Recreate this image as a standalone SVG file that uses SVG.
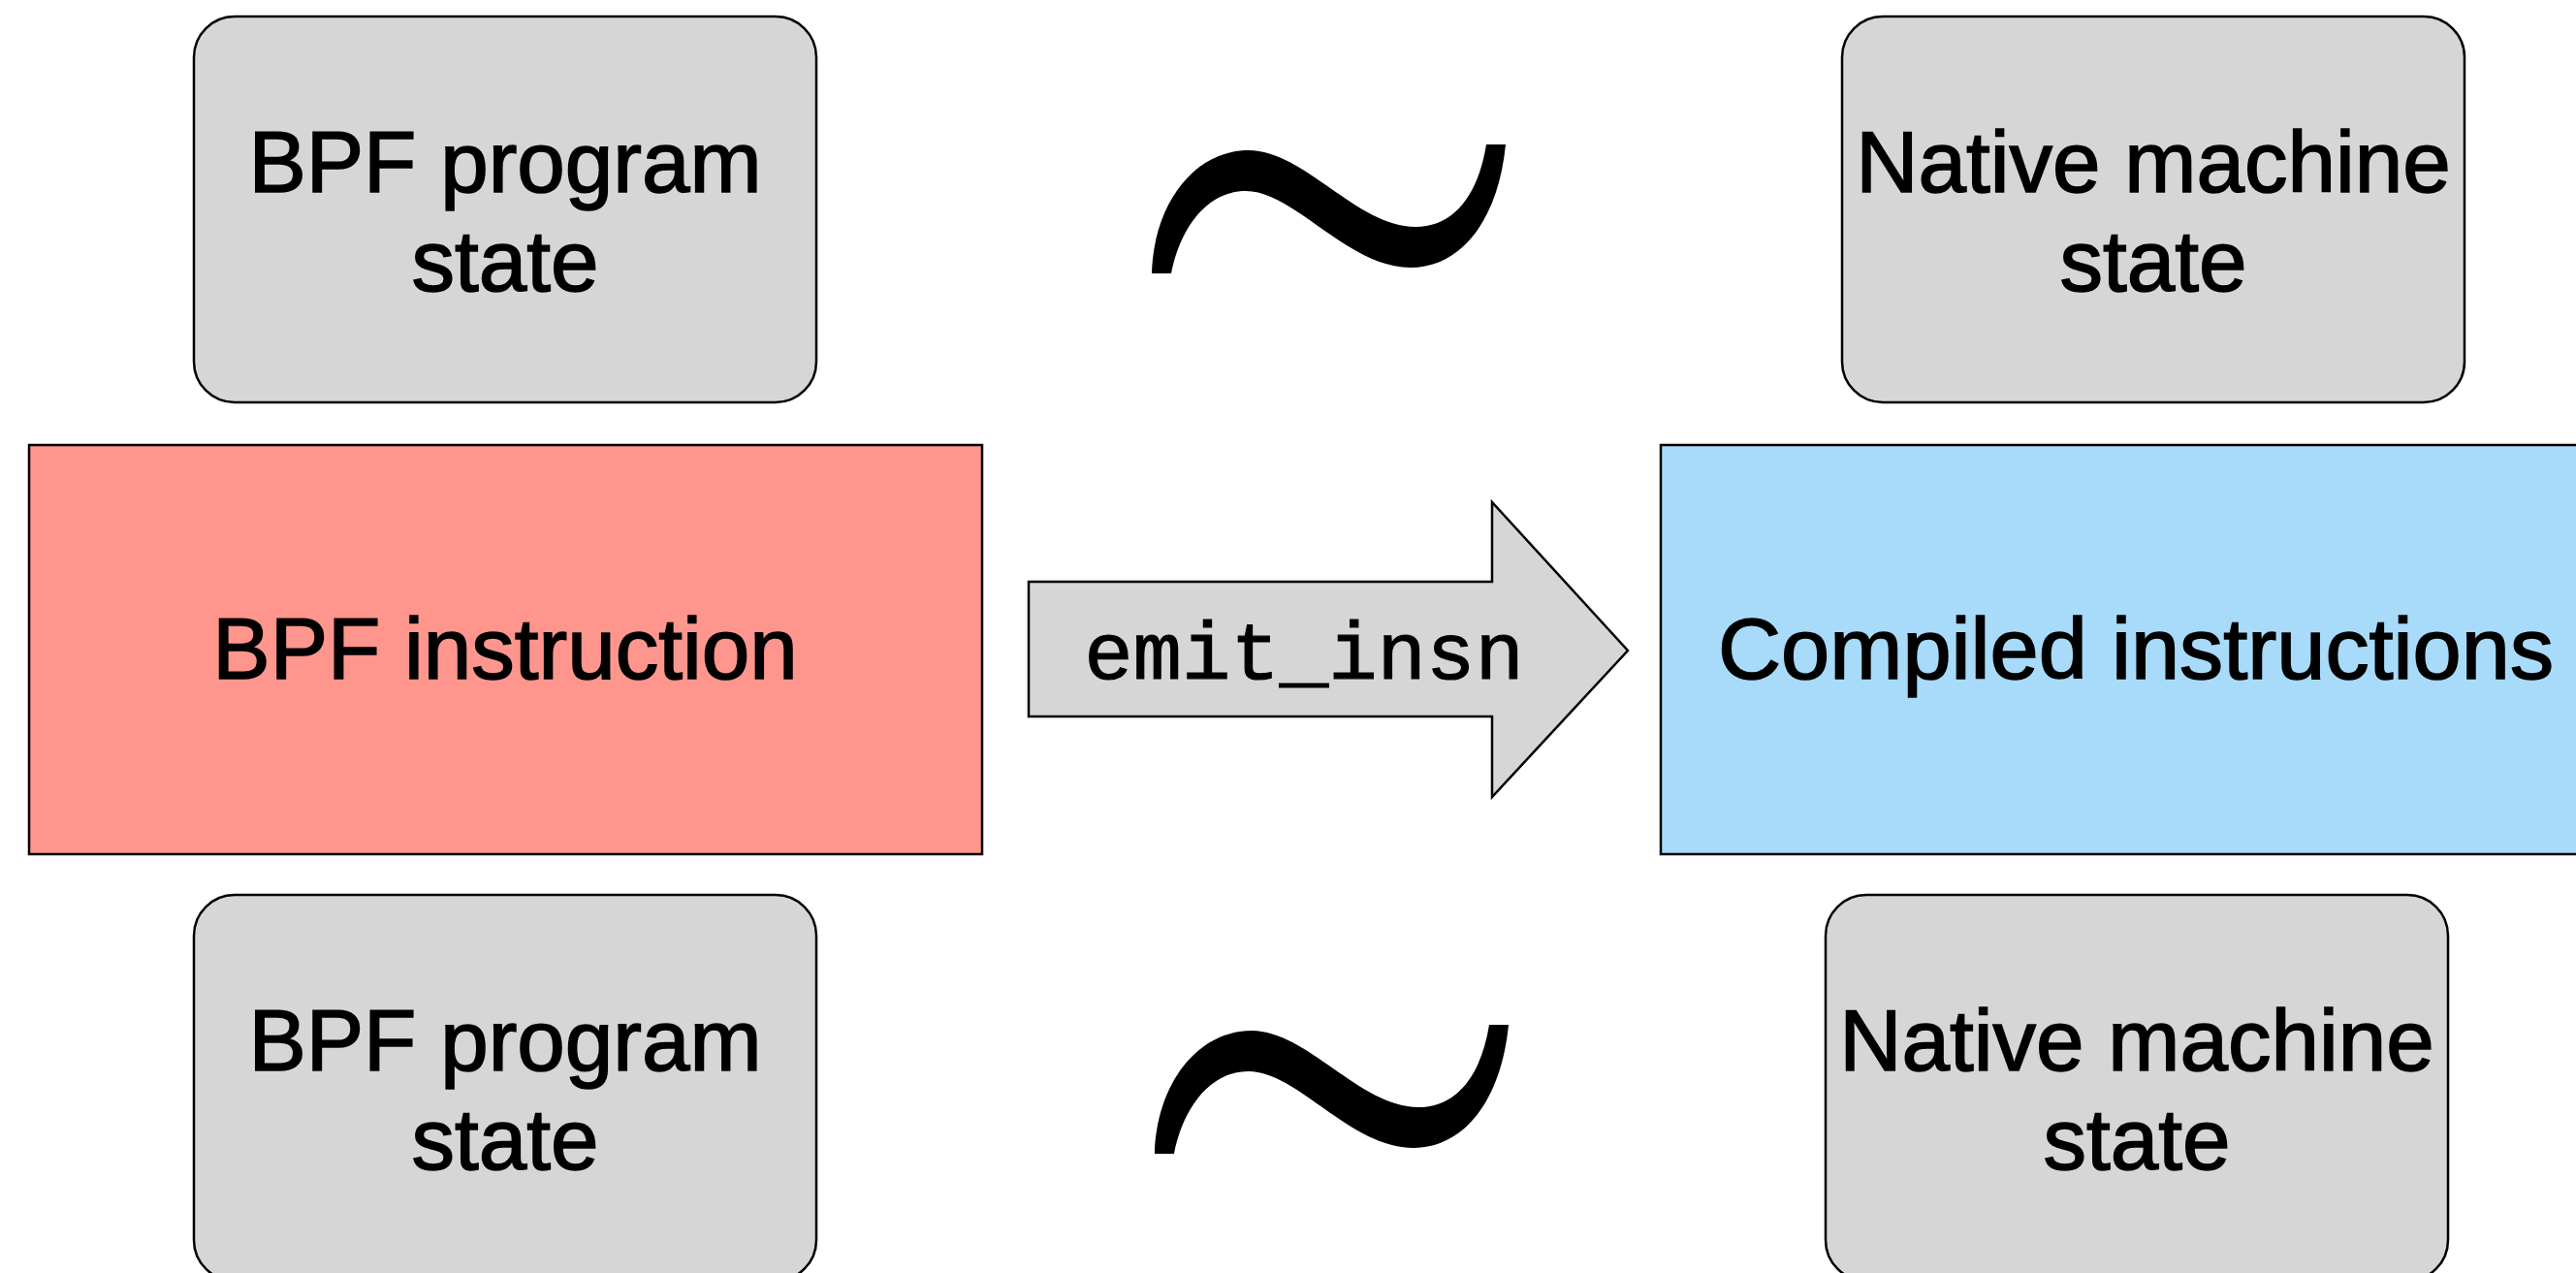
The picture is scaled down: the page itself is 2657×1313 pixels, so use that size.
<svg xmlns="http://www.w3.org/2000/svg" width="2657" height="1313" viewBox="0 0 2657 1313">
  <style>
    .state { fill: #d6d6d6; stroke: #000; stroke-width: 2.5; }
    .block { stroke: #000; stroke-width: 2.5; }
    .label { font-family: "Liberation Sans", Arial, sans-serif; font-size: 89px; fill: #000; stroke: #000; stroke-width: 1.6; text-anchor: middle; }
    .code { font-family: "Liberation Mono", "Courier New", monospace; font-size: 84px; fill: #000; stroke: #000; stroke-width: 1.2; text-anchor: middle; }
    .tilde { fill: #000; }
  </style>
  <defs>
    <path id="tilde-shape" d="M 1188,282 C 1190,210 1232,155 1288,155 C 1345,155 1400,234 1460,234 C 1500,234 1525,200 1533,149 L 1553,149 C 1545,230 1505,276 1455,276 C 1390,276 1335,197 1285,197 C 1242,197 1216,240 1208,282 Z"/>
  </defs>

  <rect width="2657" height="1313" fill="#ffffff"/>

  <g id="bpf-state-before">
    <rect class="state" x="200" y="17" width="642" height="398" rx="42" ry="42"/>
    <text class="label" x="521" y="198">BPF program</text>
    <text class="label" x="521" y="300">state</text>
  </g>

  <g id="native-state-before">
    <rect class="state" x="1900" y="17" width="642" height="398" rx="42" ry="42"/>
    <text class="label" x="2221" y="198">Native machine</text>
    <text class="label" x="2221" y="300">state</text>
  </g>

  <g id="bpf-instruction">
    <rect class="block" x="30" y="459" width="983" height="422" fill="#fe968d"/>
    <text class="label" x="521" y="700">BPF instruction</text>
  </g>

  <g id="compiled-instructions">
    <rect class="block" x="1713" y="459" width="980" height="422" fill="#a7dbf9"/>
    <text class="label" x="2203" y="700" textLength="862" lengthAdjust="spacingAndGlyphs">Compiled instructions</text>
  </g>

  <g id="bpf-state-after">
    <rect class="state" x="200" y="923" width="642" height="398" rx="42" ry="42"/>
    <text class="label" x="521" y="1104">BPF program</text>
    <text class="label" x="521" y="1206">state</text>
  </g>

  <g id="native-state-after">
    <rect class="state" x="1883" y="923" width="642" height="398" rx="42" ry="42"/>
    <text class="label" x="2204" y="1104">Native machine</text>
    <text class="label" x="2204" y="1206">state</text>
  </g>

  <g id="connectors">
    <!-- block arrow: emit_insn -->
    <polygon class="state" points="1061,600 1539,600 1539,518 1679,671 1539,822 1539,739 1061,739"/>
    <text class="code" x="1345" y="700">emit_insn</text>
    <!-- equivalence marks between states -->
    <use href="#tilde-shape" class="tilde"/>
    <use href="#tilde-shape" class="tilde" transform="translate(3,908)"/>
  </g>
</svg>
